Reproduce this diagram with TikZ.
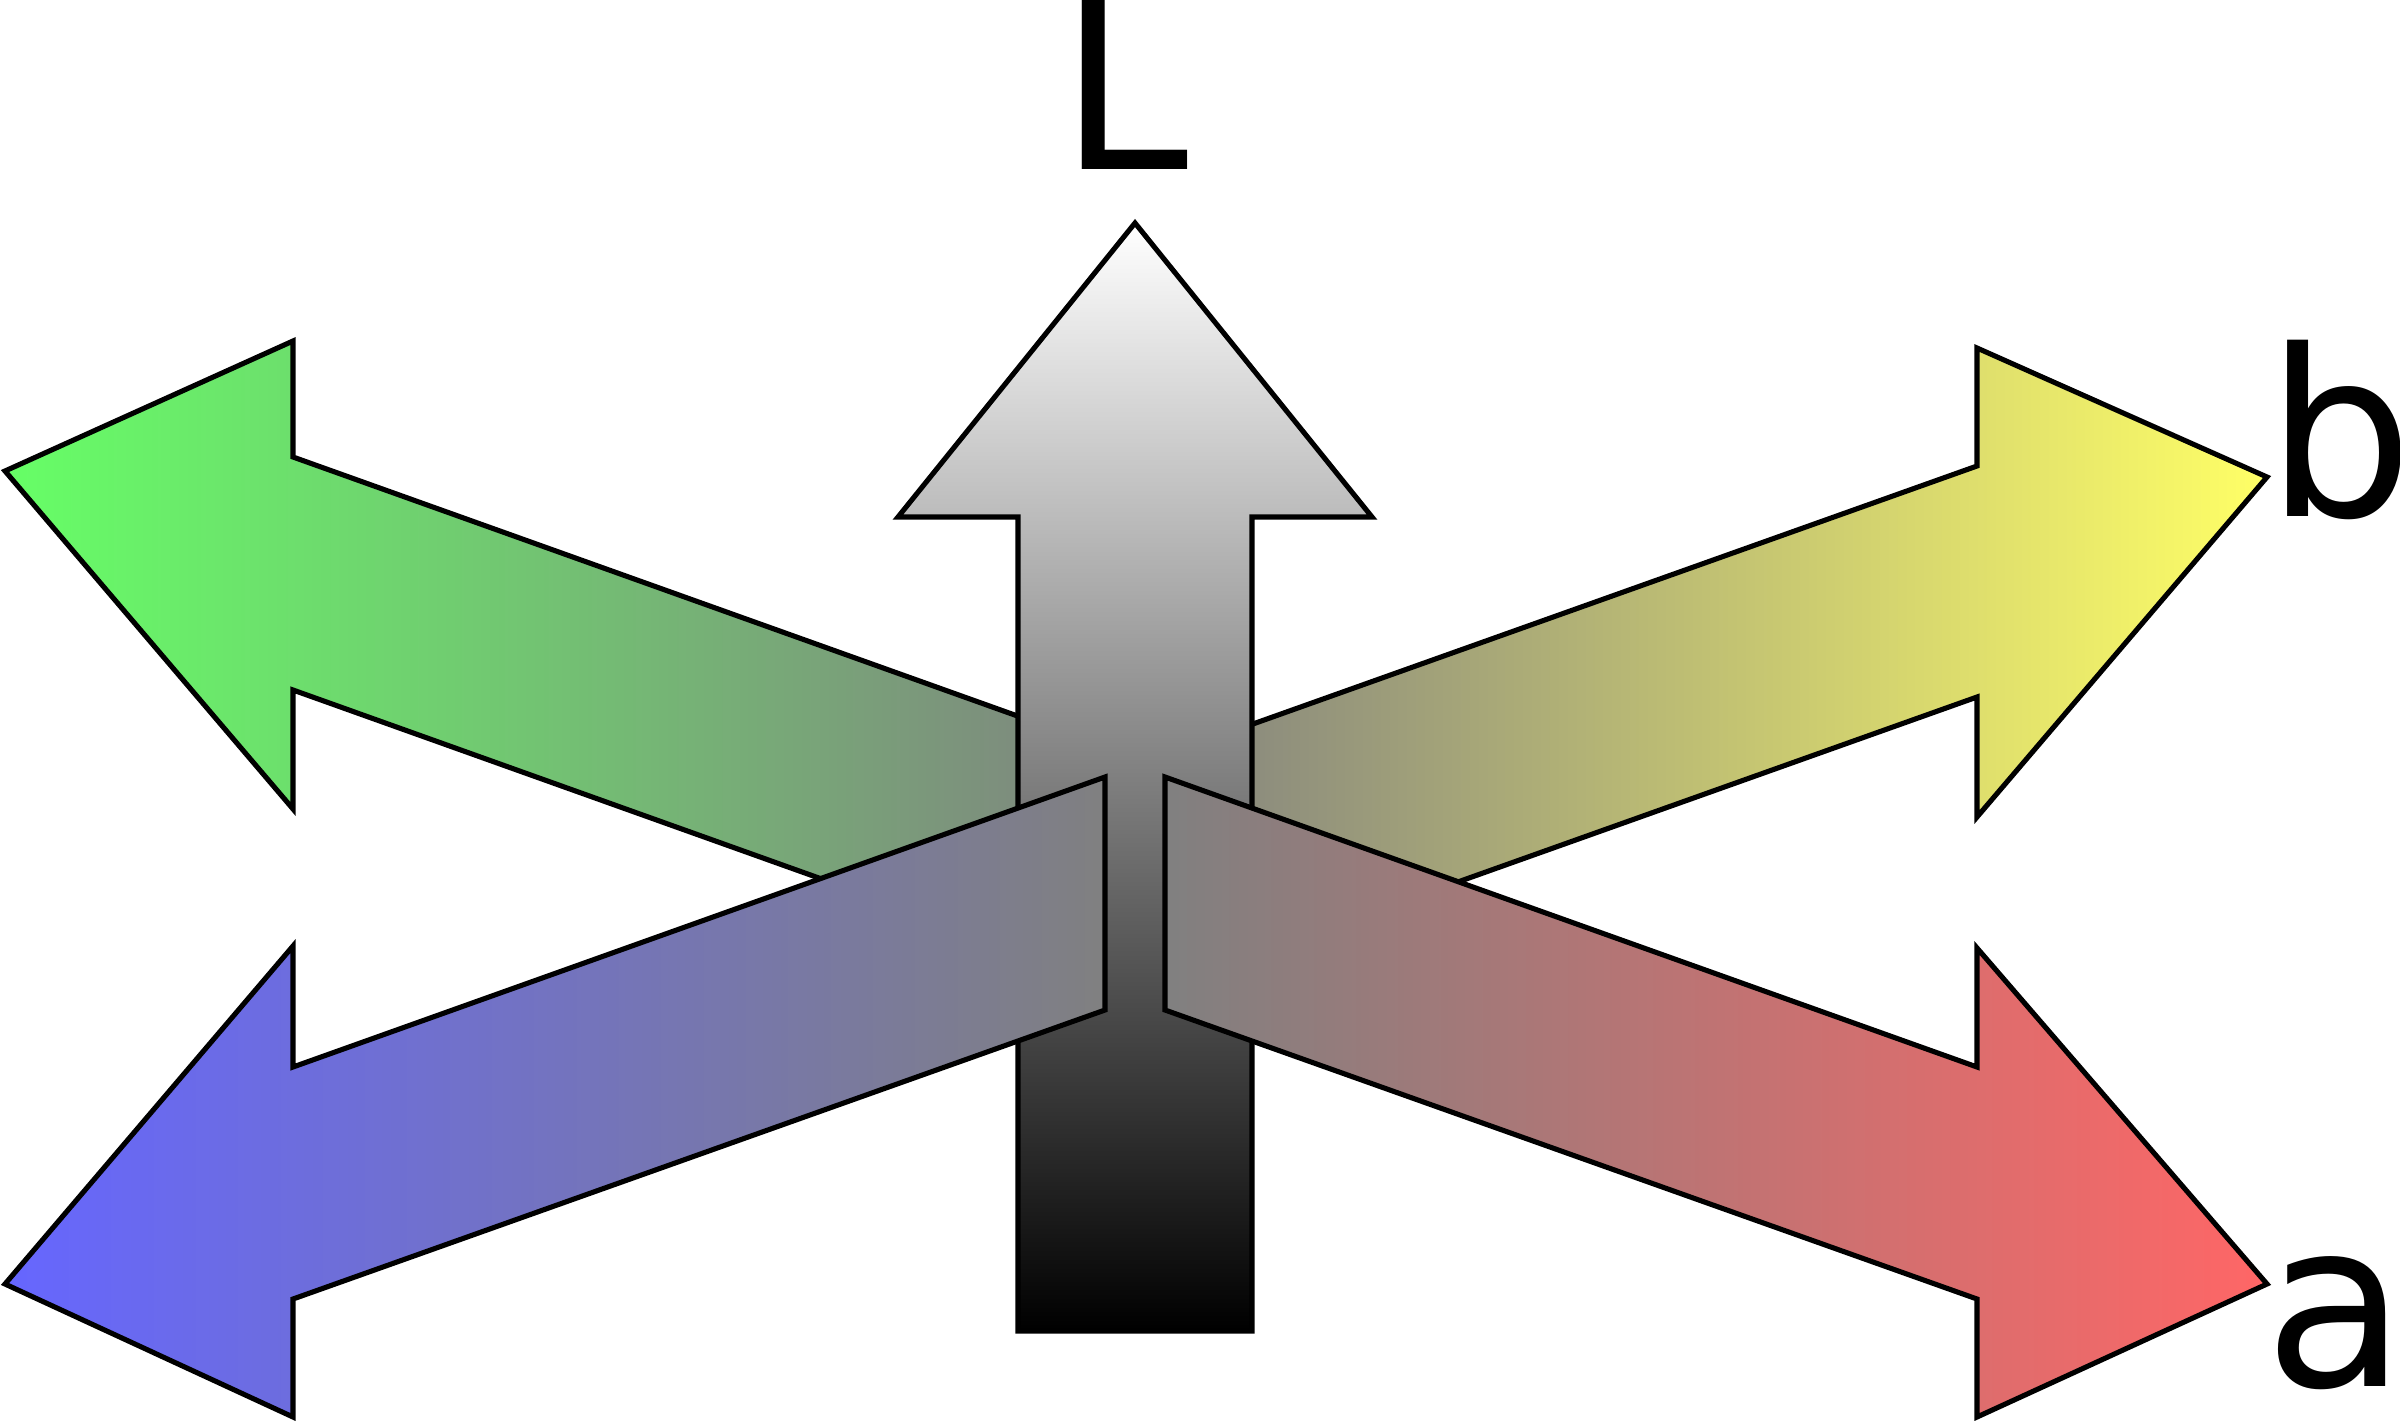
\documentclass[tikz,border=0pt]{standalone}
\usepackage{fontspec}
\newfontfamily\labfont{DejaVu Sans}
\definecolor{lgreen}{RGB}{102,255,102}
\definecolor{lyellow}{RGB}{255,255,102}
\definecolor{lblue}{RGB}{102,102,255}
\definecolor{lred}{RGB}{255,102,102}
\definecolor{midgray}{RGB}{128,128,128}
\tikzset{
  arrowline/.style={draw=black, line width=1.45pt, line join=miter},
  axislabel/.style={anchor=base west, inner sep=0pt, outer sep=0pt, font=\labfont\fontsize{66}{66}\selectfont}
}

\begin{document}
\begin{tikzpicture}[x=0.01cm, y=-0.01cm]
\useasboundingbox (0,0) rectangle (2400,1421);
% back arrows
\draw[arrowline, left color=lgreen, right color=midgray] (1135,758) -- (293,457) -- (293,341) -- (5,471) -- (293,809) -- (293,690) -- (1135,991) -- cycle;
\draw[arrowline, left color=midgray, right color=lyellow] (1135,766) -- (1977,466) -- (1977,348) -- (2267,477) -- (1977,817) -- (1977,697) -- (1135,997) -- cycle;
% L axis
\draw[arrowline, top color=white, bottom color=black] (1135,223) -- (1372,517) -- (1252,517) -- (1252,1331) -- (1018,1331) -- (1018,517) -- (898,517) -- cycle;
% front arrows
\draw[arrowline, left color=lblue, right color=midgray] (1105,777) -- (293,1067) -- (293,946) -- (5,1284) -- (293,1417) -- (293,1299) -- (1105,1010) -- cycle;
\draw[arrowline, left color=midgray, right color=lred] (1165,777) -- (1977,1067) -- (1977,948) -- (2267,1284) -- (1977,1417) -- (1977,1299) -- (1165,1010) -- cycle;
\foreach \lbl/\px/\py in {L/1059/169, b/2266/516, a/2264/1386}
    \node[axislabel] (lab\lbl) at (\px,\py) {\lbl};
\end{tikzpicture}
\end{document}
